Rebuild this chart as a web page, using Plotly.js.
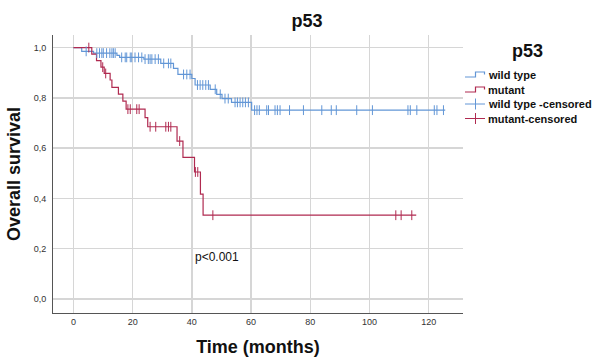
<!DOCTYPE html>
<html>
<head>
<meta charset="utf-8">
<script src="https://cdn.plot.ly/plotly-3.0.1.min.js"></script>
<style>html,body{margin:0;padding:0;background:#fff;}#chart{width:595px;height:361px;}</style>
</head>
<body>
<div id="chart"></div>
<script>
// Wild type: event times (months) and survival after each step
const wtTimes = [0, 2.8, 6.8, 14.7, 15.6, 23.8, 29.5, 33.8, 35.3, 40.0, 41.1, 46.2, 48.4, 50.2, 53.4, 60.2];
const wtSurv  = [1.0, 0.985, 0.978, 0.969, 0.961, 0.954, 0.937, 0.917, 0.893, 0.877, 0.851, 0.834, 0.814, 0.797, 0.782, 0.751];
const wtEnd = 125.6;
const wtCens = [4.3, 7.9, 8.8, 9.6, 10.1, 11.2, 12.3, 13.0, 13.5, 14.1, 16.3, 17.5, 18.0, 19.2, 19.7, 20.8, 22.0, 23.1,
  24.2, 25.3, 25.9, 26.5, 27.6, 28.7, 30.5, 32.1, 32.9, 37.2, 38.3, 39.4, 41.9, 42.8, 43.7, 44.7, 45.6, 47.9, 49.6,
  51.2, 52.3, 54.6, 55.4, 56.3, 57.2, 58.1, 59.1, 61.2, 62.0, 62.8, 65.3, 65.9, 68.1, 68.9, 69.8, 73.0, 77.7, 83.9,
  87.1, 88.8, 95.7, 101.0, 113.0, 113.8, 116.0, 121.9, 122.8, 125.0];

// Mutant
const mutTimes = [0, 6.2, 7.8, 9.3, 10.4, 12.4, 13.0, 15.2, 16.7, 17.8, 24.2, 25.1, 35.0, 37.0, 40.9, 42.9, 43.8];
const mutSurv  = [1.0, 0.974, 0.948, 0.922, 0.897, 0.871, 0.842, 0.815, 0.787, 0.755, 0.721, 0.685, 0.628, 0.563, 0.505, 0.417, 0.333];
const mutEnd = 115.8;
const mutCens = [5.2, 9.9, 10.9, 18.4, 19.2, 21.4, 22.2, 25.9, 27.8, 31.2, 32.1, 32.9, 35.9, 41.2, 42.0, 47.1, 108.9, 110.7, 114.3];

const xTicks = [0, 20, 40, 60, 80, 100, 120];
const yTicks = [0, 0.2, 0.4, 0.6, 0.8, 1.0];
const yTickText = ["0,0", "0,2", "0,4", "0,6", "0,8", "1,0"];

const seriesNames = ["wild type", "mutant", "wild type -censored", "mutant-censored"];
const legendTitle = "p53";
const chartTitle = "p53";
const pText = "p<0.001";

const blue = "#6296d6";
const red = "#b02a50";
const font = "Liberation Sans, Arial, sans-serif";

function stepLookup(times, surv, t) {
  let s = surv[0];
  for (let i = 0; i < times.length; i++) { if (times[i] <= t) s = surv[i]; }
  return s;
}

const traces = [
  {x: wtTimes.concat([wtEnd]), y: wtSurv.concat([wtSurv[wtSurv.length-1]]), mode: "lines",
   line: {shape: "hv", color: blue, width: 1.2}, name: seriesNames[0]},
  {x: mutTimes.concat([mutEnd]), y: mutSurv.concat([mutSurv[mutSurv.length-1]]), mode: "lines",
   line: {shape: "hv", color: red, width: 1.2}, name: seriesNames[1]},
  {x: wtCens, y: wtCens.map(t => stepLookup(wtTimes, wtSurv, t)), mode: "markers",
   marker: {symbol: "line-ns", size: 7, line: {color: blue, width: 1}}, name: seriesNames[2]},
  {x: mutCens, y: mutCens.map(t => stepLookup(mutTimes, mutSurv, t)), mode: "markers",
   marker: {symbol: "line-ns", size: 7, line: {color: red, width: 1}}, name: seriesNames[3]}
];

// Plot area in pixels (for the hand-built legend placement)
const M = {l: 53, r: 132, t: 35, b: 48};
const W = 595, H = 361;
const pw = W - M.l - M.r, ph = H - M.t - M.b;
const px = v => (v - M.l) / pw;
const py = v => (H - M.b - v) / ph;

const legendColors = [blue, red, blue, red];
const legendRowsY = [75, 90, 104, 118.5];
const shapes = [];
const annotations = [
  {x: 48.5, y: 0.165, xref: "x", yref: "y", text: pText, showarrow: false, font: {size: 12, color: "#111"}},
  {x: px(527), y: py(51), xref: "paper", yref: "paper", text: "<b>" + legendTitle + "</b>", showarrow: false,
   xanchor: "center", yanchor: "middle", font: {size: 18, color: "#111"}}
];
seriesNames.forEach((name, i) => {
  const yc = legendRowsY[i];
  const c = legendColors[i];
  if (i < 2) {
    shapes.push({type: "path", xref: "paper", yref: "paper",
      path: `M ${px(465)} ${py(yc + 2)} L ${px(475.5)} ${py(yc + 2)} L ${px(475.5)} ${py(yc - 3)} L ${px(484.5)} ${py(yc - 3)} L ${px(484.5)} ${py(yc - 0.5)}`,
      line: {color: c, width: 1.2}});
  } else {
    shapes.push({type: "line", xref: "paper", yref: "paper", x0: px(465), x1: px(485), y0: py(yc), y1: py(yc),
      line: {color: c, width: 1}});
    shapes.push({type: "line", xref: "paper", yref: "paper", x0: px(475.5), x1: px(475.5), y0: py(yc - 5.5), y1: py(yc + 5.5),
      line: {color: c, width: 1}});
  }
  annotations.push({x: px(486), y: py(yc), xref: "paper", yref: "paper", text: "<b>" + name + "</b>",
    showarrow: false, xanchor: "left", yanchor: "middle", font: {size: 11, color: "#111"}});
});

const layout = {
  width: W, height: H,
  margin: M,
  paper_bgcolor: "#fff", plot_bgcolor: "#fff",
  font: {family: font, color: "#222"},
  title: {text: "<b>" + chartTitle + "</b>", font: {size: 18, color: "#111"}, x: 307/595, xanchor: "center", y: 1 - 27/361, yanchor: "bottom"},
  xaxis: {range: [-6.9, 131.6], tickvals: xTicks, ticktext: xTicks.map(String), showgrid: true,
    gridcolor: "#d6d6d6", gridwidth: 1.5, zeroline: false, showline: true, linecolor: "#555", linewidth: 1,
    ticks: "", tickfont: {size: 9, color: "#333"},
    title: {text: "<b>Time (months)</b>", font: {size: 18, color: "#111"}, standoff: 14}},
  yaxis: {range: [-0.056, 1.05], tickvals: yTicks, ticktext: yTickText, showgrid: true,
    gridcolor: "#d6d6d6", gridwidth: 1.5, zeroline: false, showline: true, linecolor: "#555", linewidth: 1,
    ticks: "", tickfont: {size: 9, color: "#333"}, ticklabelstandoff: 4,
    title: {text: "<b>Overall survival</b>", font: {size: 18, color: "#111"}, standoff: 8}},
  showlegend: false,
  shapes: shapes,
  annotations: annotations
};

Plotly.newPlot("chart", traces, layout, {staticPlot: true, displayModeBar: false});
</script>
</body>
</html>
